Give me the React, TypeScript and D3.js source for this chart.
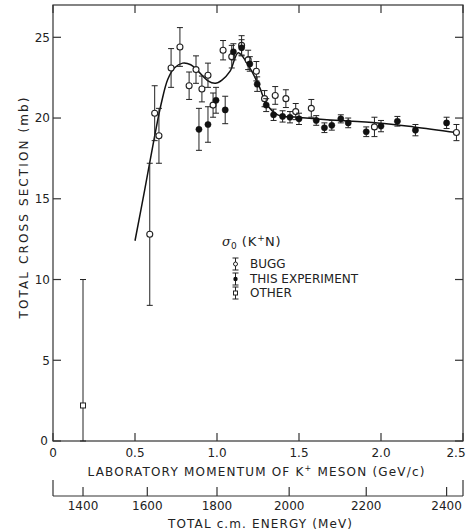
import React from "react";
import * as d3 from "d3";

// ---- data ----
// BUGG (open circles): [momentum GeV/c, sigma mb, error mb]
const buggP = [0.59, 0.62, 0.646, 0.72, 0.774, 0.83, 0.872, 0.908, 0.945, 0.976, 1.037, 1.09, 1.15, 1.19, 1.24, 1.29, 1.355, 1.42, 1.48, 1.575, 1.96, 2.46];
const buggS = [12.8, 20.3, 18.9, 23.1, 24.4, 22.0, 23.0, 21.8, 22.65, 20.8, 24.2, 23.8, 24.5, 23.6, 22.9, 21.2, 21.4, 21.2, 20.4, 20.6, 19.45, 19.1];
const buggE = [4.4, 1.7, 1.7, 1.2, 1.2, 0.85, 0.85, 0.8, 0.75, 0.75, 0.6, 0.7, 0.6, 0.6, 0.6, 0.5, 0.55, 0.55, 0.5, 0.55, 0.6, 0.5];

// THIS EXPERIMENT (filled circles)
const expP = [0.89, 0.945, 0.994, 1.05, 1.10, 1.15, 1.20, 1.245, 1.30, 1.345, 1.40, 1.445, 1.50, 1.605, 1.655, 1.70, 1.755, 1.80, 1.91, 2.00, 2.10, 2.21, 2.40];
const expS = [19.3, 19.6, 21.1, 20.5, 24.1, 24.35, 23.35, 22.1, 20.8, 20.2, 20.1, 20.05, 19.95, 19.85, 19.4, 19.55, 19.95, 19.7, 19.15, 19.5, 19.8, 19.25, 19.7];
const expE = [1.3, 1.1, 0.8, 0.85, 0.5, 0.5, 0.45, 0.45, 0.4, 0.35, 0.35, 0.35, 0.35, 0.3, 0.3, 0.3, 0.25, 0.3, 0.3, 0.35, 0.3, 0.35, 0.35];

// OTHER (open squares): sigma with asymmetric errors
const otherP = [0.183];
const otherS = [2.2];
const otherUp = [7.8];
const otherDown = [2.2];

// fitted curve
const curveP = [0.5, 0.56, 0.62, 0.66, 0.70, 0.74, 0.79, 0.84, 0.88, 0.945, 0.99, 1.03, 1.08, 1.13, 1.2, 1.26, 1.3, 1.37, 1.49, 1.67, 1.98, 2.2, 2.46];
const curveS = [12.4, 15.6, 18.9, 20.9, 22.4, 23.1, 23.4, 23.3, 22.95, 22.3, 22.15, 22.35, 22.9, 24.05, 23.1, 21.9, 20.9, 20.2, 20.05, 19.9, 19.7, 19.45, 19.1];

// axes
const momentumTicks = [0, 0.5, 1.0, 1.5, 2.0, 2.5];
const momentumTickLabels = ["0", "0.5", "1.0", "1.5", "2.0", "2.5"];
const sigmaTicks = [0, 5, 10, 15, 20, 25];
const energyTicks = [1400, 1600, 1800, 2000, 2200, 2400];
const energyTickMomentum = [0.183, 0.575, 1.0, 1.44, 1.91, 2.4];

const legendLabels = ["BUGG", "THIS EXPERIMENT", "OTHER"];

const W = 468;
const H = 531;
const FONT = "'DejaVu Sans', sans-serif";
const INK = "#222";

export default function App() {
  const x = d3.scaleLinear().domain([0, 2.5]).range([53, 463]);
  const y = d3.scaleLinear().domain([0, 27]).range([441, 5]);
  const eScale = d3.scaleLinear().domain(energyTicks).range(energyTickMomentum.map((p) => x(p)));

  const line = d3
    .line<number>()
    .x((_, i) => x(curveP[i]))
    .y((d) => y(d))
    .curve(d3.curveCatmullRom.alpha(0.5));

  const cap = 3;
  const errBar = (px: number, yTop: number, yBot: number, key: string) => (
    <g key={key} stroke={INK} strokeWidth={1}>
      <line x1={px} x2={px} y1={yTop} y2={yBot} />
      <line x1={px - cap} x2={px + cap} y1={yTop} y2={yTop} />
      <line x1={px - cap} x2={px + cap} y1={yBot} y2={yBot} />
    </g>
  );

  const [x0, x1] = x.range();
  const [yb, yt] = y.range();
  const tk = 8;
  const eAxisY = 496;

  const legX = 235.5;
  const legRows = [264, 279, 293];

  return (
    <div style={{ position: "absolute", left: 0, top: 0 }}>
      <svg width={W} height={H} style={{ display: "block", background: "#fff" }} fontFamily={FONT}>
        <rect x={0} y={0} width={W} height={H} fill="#fff" />
        {/* frame */}
        <rect x={x0} y={yt} width={x1 - x0} height={yb - yt} fill="none" stroke="#333" strokeWidth={1.2} />
        {/* x ticks bottom & top */}
        {momentumTicks.map((t, i) => (
          <g key={"xt" + i} stroke="#333" strokeWidth={1.2}>
            <line x1={x(t)} x2={x(t)} y1={yb} y2={yb - tk} />
            <line x1={x(t)} x2={x(t)} y1={yt} y2={yt + tk} />
          </g>
        ))}
        {momentumTicks.map((t, i) => (
          <text
            key={"xl" + i}
            x={Math.min(x(t), 456)}
            y={457}
            textAnchor="middle"
            fontSize={12}
            fill={INK}
          >
            {momentumTickLabels[i]}
          </text>
        ))}
        {/* y ticks */}
        {sigmaTicks.map((t, i) => (
          <g key={"yt" + i} stroke="#333" strokeWidth={1.2}>
            <line x1={x0} x2={x0 + tk} y1={y(t)} y2={y(t)} />
            <line x1={x1} x2={x1 - tk} y1={y(t)} y2={y(t)} />
          </g>
        ))}
        {sigmaTicks.map((t, i) => (
          <text key={"yl" + i} x={t === 0 ? 48 : 50} y={y(t) + 4.4} textAnchor="end" fontSize={12} fill={INK}>
            {String(t)}
          </text>
        ))}
        {/* axis titles */}
        <text
          x={256}
          y={475.5}
          textAnchor="middle"
          fontSize={12}
          fill={INK}
          textLength={337}
          lengthAdjust="spacing"
        >
          LABORATORY MOMENTUM OF K<tspan fontSize={8} dy={-5}>+</tspan>
          <tspan dy={5}> MESON (GeV/c)</tspan>
        </text>
        <text
          transform={`translate(28,208) rotate(-90)`}
          textAnchor="middle"
          fontSize={12}
          fill={INK}
          textLength={221}
          lengthAdjust="spacing"
        >
          TOTAL CROSS SECTION (mb)
        </text>

        {/* energy axis */}
        <g stroke="#333" strokeWidth={1.2}>
          <line x1={x0} x2={x1} y1={eAxisY} y2={eAxisY} />
          <line x1={x0} x2={x0} y1={eAxisY} y2={eAxisY - 16} />
          <line x1={x1} x2={x1} y1={eAxisY} y2={eAxisY - 16} />
          {energyTicks.map((e, i) => (
            <line key={"et" + i} x1={eScale(e)} x2={eScale(e)} y1={eAxisY} y2={eAxisY - 9} />
          ))}
        </g>
        {energyTicks.map((e, i) => (
          <text key={"el" + i} x={eScale(e)} y={509.5} textAnchor="middle" fontSize={12} fill={INK}>
            {String(e)}
          </text>
        ))}
        <text x={260} y={527.5} textAnchor="middle" fontSize={12} fill={INK} textLength={184} lengthAdjust="spacing">
          TOTAL c.m. ENERGY (MeV)
        </text>

        {/* curve */}
        <path d={line(curveS) || ""} fill="none" stroke="#111" strokeWidth={1.5} />

        {/* OTHER */}
        {otherP.map((p, i) => (
          <g key={"o" + i}>
            {errBar(x(p), y(otherS[i] + otherUp[i]), y(otherS[i] - otherDown[i]), "oe" + i)}
            <rect x={x(p) - 2.5} y={y(otherS[i]) - 2.5} width={5} height={5} fill="#fff" stroke={INK} strokeWidth={1} />
          </g>
        ))}

        {/* BUGG */}
        {buggP.map((p, i) => (
          <g key={"b" + i}>
            {errBar(x(p), y(buggS[i] + buggE[i]), y(buggS[i] - buggE[i]), "be" + i)}
            <circle cx={x(p)} cy={y(buggS[i])} r={3} fill="#fff" stroke={INK} strokeWidth={1.1} />
          </g>
        ))}

        {/* THIS EXPERIMENT */}
        {expP.map((p, i) => (
          <g key={"e" + i}>
            {errBar(x(p), y(expS[i] + expE[i]), y(expS[i] - expE[i]), "ee" + i)}
            <circle cx={x(p)} cy={y(expS[i])} r={3.1} fill="#111" stroke="#111" strokeWidth={0.5} />
          </g>
        ))}

        {/* legend */}
        <text x={222} y={246} fontSize={13} fill={INK}>
          <tspan fontStyle="italic" fontFamily="'DejaVu Serif', serif">σ</tspan>
          <tspan fontSize={9} dy={3}>0</tspan>
          <tspan dy={-3} letterSpacing={1}> (K</tspan>
          <tspan fontSize={9} dy={-5}>+</tspan>
          <tspan dy={5} letterSpacing={1}>N)</tspan>
        </text>
        {legRows.map((ry, i) => (
          <g key={"lg" + i}>
            {errBar(legX, ry - 6, ry + 6, "lge" + i)}
            {i === 0 && <circle cx={legX} cy={ry} r={2} fill="#fff" stroke={INK} strokeWidth={1} />}
            {i === 1 && <circle cx={legX} cy={ry} r={2.2} fill="#111" />}
            {i === 2 && <rect x={legX - 2} y={ry - 2} width={4} height={4} fill="#fff" stroke={INK} strokeWidth={1} />}
            <text x={250} y={ry + 4.2} fontSize={12} fill={INK}>
              {legendLabels[i]}
            </text>
          </g>
        ))}
      </svg>
    </div>
  );
}
